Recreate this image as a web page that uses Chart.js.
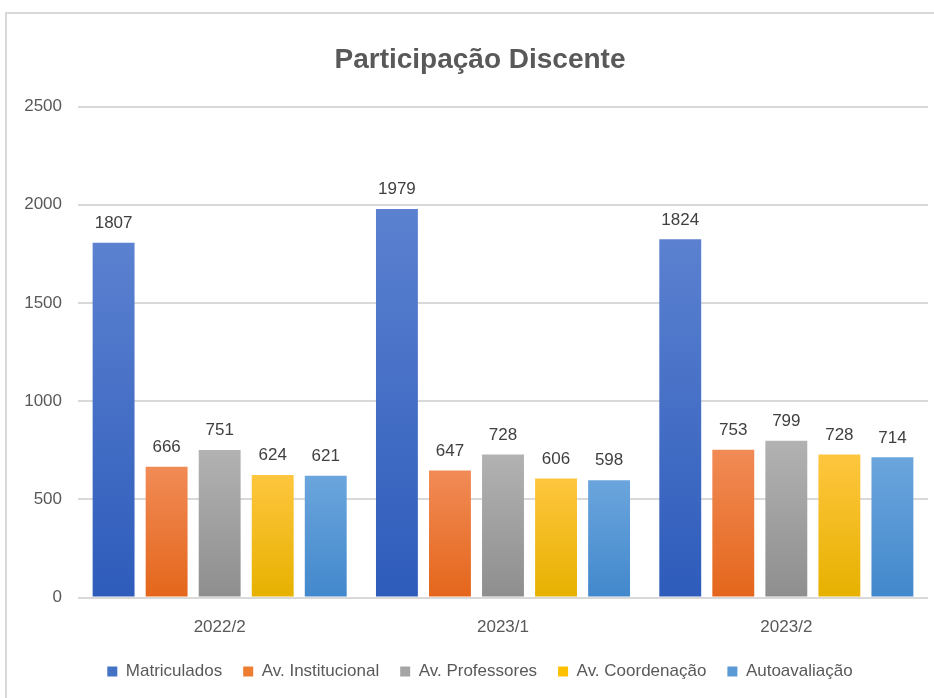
<!DOCTYPE html>
<html>
<head>
<meta charset="utf-8">
<script src="https://cdn.jsdelivr.net/npm/chart.js@4.4.1/dist/chart.umd.min.js"></script>
<style>
  html, body { margin: 0; padding: 0; background: #fff; }
  #frame { position: absolute; left: 5px; top: 12px; width: 940px; height: 700px; border: 2px solid #d9d9d9; }
  #chart { position: absolute; left: 0; top: 0; }
</style>
</head>
<body>
<div id="frame"></div>
<canvas id="chart" width="934" height="698"></canvas>
<script>
// semesters on the x axis
const semesters = ['2022/2', '2023/1', '2023/2'];

// one array per series, in semester order
const matriculados = [1807, 1979, 1824];
const avInstitucional = [666, 647, 753];
const avProfessores = [751, 728, 799];
const avCoordenacao = [624, 606, 728];
const autoavaliacao = [621, 598, 714];

const seriesNames = ['Matriculados', 'Av. Institucional', 'Av. Professores', 'Av. Coordenação', 'Autoavaliação'];
const yTicks = [0, 500, 1000, 1500, 2000, 2500];

// [top, bottom] gradient colors, plus a flat one for the legend
const gradColors = [
  ['#5b81d0', '#2e5cbb'],
  ['#f18b56', '#e4661b'],
  ['#b2b2b2', '#8e8e8e'],
  ['#fec63e', '#e7b100'],
  ['#6ba5dd', '#4288cc'],
];
const flatColors = ['#4472c4', '#ed7d31', '#a5a5a5', '#ffc000', '#5b9bd5'];

const fontFamily = '"Liberation Sans", Arial, sans-serif';

// per-bar vertical gradient, lighter on top
const barFill = (idx) => (ctx) => {
  if (ctx.type !== 'data') return flatColors[idx];
  const chart = ctx.chart;
  const y = chart.scales.y;
  if (!chart.chartArea || !y) return flatColors[idx];
  const top = y.getPixelForValue(ctx.raw);
  const bottom = y.getPixelForValue(0);
  const g = chart.ctx.createLinearGradient(0, top, 0, bottom);
  g.addColorStop(0, gradColors[idx][0]);
  g.addColorStop(1, gradColors[idx][1]);
  return g;
};

// value labels above each bar
const valueLabels = {
  id: 'valueLabels',
  afterDatasetsDraw(chart) {
    const ctx = chart.ctx;
    ctx.save();
    ctx.font = '17px ' + fontFamily;
    ctx.fillStyle = '#404040';
    ctx.textAlign = 'center';
    ctx.textBaseline = 'bottom';
    chart.data.datasets.forEach((ds, i) => {
      chart.getDatasetMeta(i).data.forEach((bar, j) => {
        ctx.fillText(String(ds.data[j]), bar.x, bar.y - 11);
      });
    });
    ctx.restore();
  },
};

// title and legend sit a little right of the plot's centre in the original
const shiftHeader = {
  id: 'shiftHeader',
  afterLayout(chart) {
    if (chart.titleBlock) chart.titleBlock.left += 24;
    if (chart.legend) chart.legend.left += 24;
  },
};

const seriesData = [matriculados, avInstitucional, avProfessores, avCoordenacao, autoavaliacao];

new Chart(document.getElementById('chart'), {
  type: 'bar',
  data: {
    labels: semesters,
    datasets: seriesData.map((d, i) => ({
      label: seriesNames[i],
      data: d,
      backgroundColor: barFill(i),
      borderWidth: 0,
      categoryPercentage: 0.936,
      barPercentage: 0.79,
    })),
  },
  options: {
    responsive: false,
    animation: false,
    layout: { padding: { left: 8, right: 6, top: 43, bottom: 8 } },
    plugins: {
      title: {
        display: true,
        text: 'Participação Discente',
        color: '#595959',
        font: { family: fontFamily, size: 28, weight: 'bold' },
        padding: { top: 0, bottom: 30 },
      },
      legend: {
        position: 'bottom',
        labels: {
          color: '#595959',
          font: { family: fontFamily, size: 17 },
          boxWidth: 10,
          boxHeight: 10,
          padding: 21,
          generateLabels: (chart) => {
            const items = Chart.defaults.plugins.legend.labels.generateLabels(chart);
            items.forEach((it, i) => {
              it.fillStyle = flatColors[i];
              it.strokeStyle = flatColors[i];
              it.lineWidth = 0;
            });
            return items;
          },
        },
      },
      tooltip: { enabled: false },
    },
    scales: {
      x: {
        grid: { display: false },
        border: { display: false },
        ticks: { color: '#595959', font: { family: fontFamily, size: 17 }, padding: 12 },
        afterFit: (scale) => { scale.height -= 8; },
      },
      y: {
        min: 0,
        max: 2500,
        afterBuildTicks: (axis) => { axis.ticks = yTicks.map((v) => ({ value: v })); },
        afterFit: (scale) => { scale.width = 70; },
        grid: { color: '#d9d9d9', lineWidth: 2, drawTicks: false },
        border: { display: false },
        ticks: {
          color: '#595959',
          font: { family: fontFamily, size: 17 },
          padding: 16,
          callback: (v) => String(v),
        },
      },
    },
  },
  plugins: [valueLabels, shiftHeader],
});
</script>
</body>
</html>
